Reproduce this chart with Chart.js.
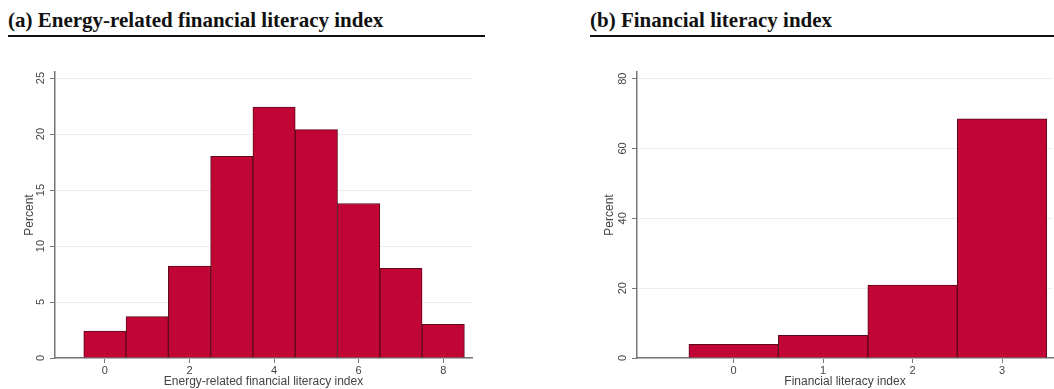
<!DOCTYPE html>
<html>
<head>
<meta charset="utf-8">
<script src="https://cdn.jsdelivr.net/npm/chart.js@4"></script>
<style>
  body { margin: 0; background: #fff; width: 1054px; height: 389px; position: relative; overflow: hidden; }
  .ttl { position: absolute; top: 8px; font: bold 21px "Liberation Serif", "Times New Roman", serif; color: #111;
         border-bottom: 2px solid #111; padding-bottom: 3px; line-height: 24px; }
  .box { position: absolute; top: 0; height: 389px; }
</style>
</head>
<body>
<div class="ttl" style="left:8px;width:477px">(a) Energy-related financial literacy index</div>
<div class="ttl" style="left:590px;width:464px">(b) Financial literacy index</div>
<div class="box" style="left:0;width:480px"><canvas id="chartA"></canvas></div>
<div class="box" style="left:580px;width:474px"><canvas id="chartB"></canvas></div>
<script>
// (a) energy-related financial literacy index, percent per score
const energyScores = [0, 1, 2, 3, 4, 5, 6, 7, 8];
const energyPercent = [2.4, 3.7, 8.2, 18.0, 22.4, 20.4, 13.8, 8.0, 3.0];
const energyXTicks = [0, 2, 4, 6, 8];
const energyYTicks = [0, 5, 10, 15, 20, 25];

// (b) financial literacy index, percent per score
const finScores = [0, 1, 2, 3];
const finPercent = [3.9, 6.5, 20.9, 68.5];
const finXTicks = [0, 1, 2, 3];
const finYTicks = [0, 20, 40, 60, 80];

const axisFont = { family: '"Liberation Sans", Arial, sans-serif', size: 11 };
const titleFont = { family: '"Liberation Sans", Arial, sans-serif', size: 12 };

function histChart(id, xs, ys, xTicks, yTicks, xRange, yMax, xTitle, yWidth, padRight) {
    return new Chart(document.getElementById(id).getContext('2d'), {
        type: 'bar',
        data: {
            datasets: [{
                data: xs.map((x, i) => ({ x: x, y: ys[i] })),
                backgroundColor: '#c10534',
                borderColor: '#5a0a1c',
                borderWidth: 1,
                barPercentage: 1,
                categoryPercentage: 1
            }]
        },
        options: {
            responsive: true,
            maintainAspectRatio: false,
            animation: false,
            layout: { padding: { top: 72, right: padRight, left: 0, bottom: 0 } },
            plugins: { legend: { display: false }, tooltip: { enabled: false } },
            scales: {
                x: {
                    type: 'linear',
                    min: xRange[0],
                    max: xRange[1],
                    offset: false,
                    afterBuildTicks: s => { s.ticks = xTicks.map(v => ({ value: v })); },
                    afterFit: s => { s.height = 31; },
                    grid: { display: true, offset: false, drawOnChartArea: false, drawTicks: true, tickLength: 5, tickColor: '#777' },
                    border: { display: true, color: '#777', width: 1.5 },
                    ticks: { font: axisFont, color: '#444', padding: 1, maxRotation: 0 },
                    title: { display: true, text: xTitle, font: titleFont, color: '#444', padding: { top: 0, bottom: 0 } }
                },
                y: {
                    min: 0,
                    max: yMax,
                    afterBuildTicks: s => { s.ticks = yTicks.map(v => ({ value: v })); },
                    afterFit: s => { s.width = yWidth; },
                    grid: { color: '#e6f0f0', lineWidth: 1, tickLength: 5, tickColor: '#777' },
                    border: { display: true, color: '#777', width: 1.5 },
                    ticks: { font: axisFont, color: '#444', padding: 3, minRotation: 90, maxRotation: 90, crossAlign: 'center' },
                    title: { display: true, text: 'Percent', font: titleFont, color: '#444', padding: { top: 22, bottom: 0 } }
                }
            }
        }
    });
}

histChart('chartA', energyScores, energyPercent, energyXTicks, energyYTicks, [-1.18, 8.68], 25.54,
    'Energy-related financial literacy index', 55, 8);
histChart('chartB', finScores, finPercent, finXTicks, finYTicks, [-1.08, 3.57], 81.9,
    'Financial literacy index', 57, 1);
</script>
</body>
</html>
